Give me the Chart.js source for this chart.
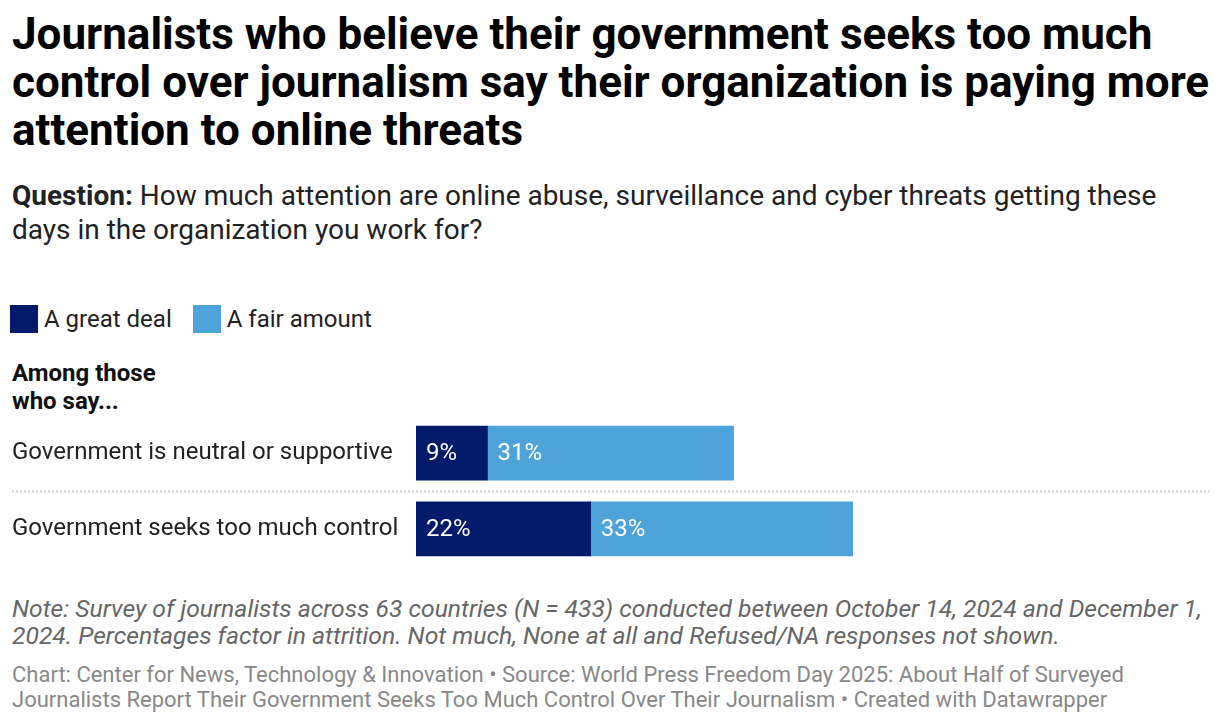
<!DOCTYPE html>
<html>
<head>
<meta charset="utf-8">
<script src="https://cdn.jsdelivr.net/npm/chart.js@4"></script>
<style>
  html, body { margin: 0; padding: 0; background: #fff; }
  body { width: 1220px; height: 726px; position: relative; overflow: hidden; font-family: Roboto, "Noto Sans", sans-serif; color: #333; }
  .blk { position: absolute; left: 12px; white-space: nowrap; }
  #title { top: 10px; font-size: 44px; line-height: 48px; font-weight: 700; color: #000; }
  #sub { top: 179px; font-size: 28px; line-height: 34px; color: #222; }
  #sub b { font-weight: 700; }
  #legend { top: 304px; left: 10px; font-size: 24px; line-height: 30px; color: #222; display: flex; }
  #legend span.item { display: flex; align-items: center; margin-right: 21px; }
  #legend i { display: inline-block; width: 28px; height: 28px; margin-right: 6px; }
  #head { top: 359px; font-size: 24px; line-height: 28px; font-weight: 700; color: #111; }
  #wrap { position: absolute; left: 0; top: 401px; width: 1220px; height: 180px; }
  #note { top: 595px; font-size: 24.7px; line-height: 27px; font-style: italic; color: #666; }
  #foot { top: 662px; font-size: 22px; line-height: 25px; color: #888; }
</style>
</head>
<body>
<div class="blk" id="title">Journalists who believe their government seeks too much<br>control over journalism say their organization is paying more<br>attention to online threats</div>
<div class="blk" id="sub"><b>Question:</b> How much attention are online abuse, surveillance and cyber threats getting these<br>days in the organization you work for?</div>
<div class="blk" id="legend"></div>
<div class="blk" id="head">Among those<br>who say...</div>
<div id="wrap"><canvas id="chart"></canvas></div>
<div class="blk" id="note">Note: Survey of journalists across 63 countries (N = 433) conducted between October 14, 2024 and December 1,<br>2024. Percentages factor in attrition. Not much, None at all and Refused/NA responses not shown.</div>
<div class="blk" id="foot">Chart: Center for News, Technology &amp; Innovation • Source: World Press Freedom Day 2025: About Half of Surveyed<br>Journalists Report Their Government Seeks Too Much Control Over Their Journalism • Created with Datawrapper</div>
<script>
const categories = ['Government is neutral or supportive', 'Government seeks too much control'];
const greatDeal = [9, 22];
const fairAmount = [31, 33];
const seriesNames = ['A great deal', 'A fair amount'];
const seriesColors = ['#031a6b', '#4fa3db'];

// legend
const legendEl = document.getElementById('legend');
seriesNames.forEach((name, i) => {
  const item = document.createElement('span');
  item.className = 'item';
  item.innerHTML = '<i style="background:' + seriesColors[i] + '"></i>' + name;
  legendEl.appendChild(item);
});

// white % labels inside each segment + dotted row separator
const barLabels = {
  id: 'barLabels',
  afterDatasetsDraw(chart) {
    const ctx = chart.ctx;
    ctx.save();
    ctx.font = '24px Roboto, sans-serif';
    ctx.fillStyle = '#fff';
    ctx.textBaseline = 'middle';
    ctx.textAlign = 'left';
    chart.data.datasets.forEach((ds, di) => {
      chart.getDatasetMeta(di).data.forEach((bar, i) => {
        const left = Math.min(bar.base, bar.x);
        ctx.fillText(ds.data[i] + '%', left + 10, bar.y + 1);
      });
    });
    // separator between rows
    const y = Math.round(chart.scales.y.getPixelForValue(0.5)) + 0.5;
    ctx.strokeStyle = '#cfcfcf';
    ctx.lineWidth = 2;
    ctx.setLineDash([2, 2]);
    ctx.beginPath();
    ctx.moveTo(12, y);
    ctx.lineTo(chart.chartArea.right, y);
    ctx.stroke();
    ctx.restore();
  }
};

new Chart(document.getElementById('chart'), {
  type: 'bar',
  data: {
    labels: categories,
    datasets: [
      { label: seriesNames[0], data: greatDeal, backgroundColor: seriesColors[0], barThickness: 54 },
      { label: seriesNames[1], data: fairAmount, backgroundColor: seriesColors[1], barThickness: 54 }
    ]
  },
  plugins: [barLabels],
  options: {
    indexAxis: 'y',
    responsive: true,
    maintainAspectRatio: false,
    animation: false,
    layout: { padding: { left: 12, right: 10, top: 0, bottom: 0 } },
    plugins: {
      legend: { display: false },
      tooltip: { enabled: false }
    },
    scales: {
      x: {
        stacked: true,
        min: 0,
        max: 100,
        display: false
      },
      y: {
        stacked: true,
        grid: { display: false },
        border: { display: false },
        ticks: {
          crossAlign: 'far',
          padding: 0,
          color: '#222',
          font: { family: 'Roboto', size: 24 }
        },
        afterFit(scale) { scale.width = 404; }
      }
    }
  }
});
</script>
</body>
</html>
